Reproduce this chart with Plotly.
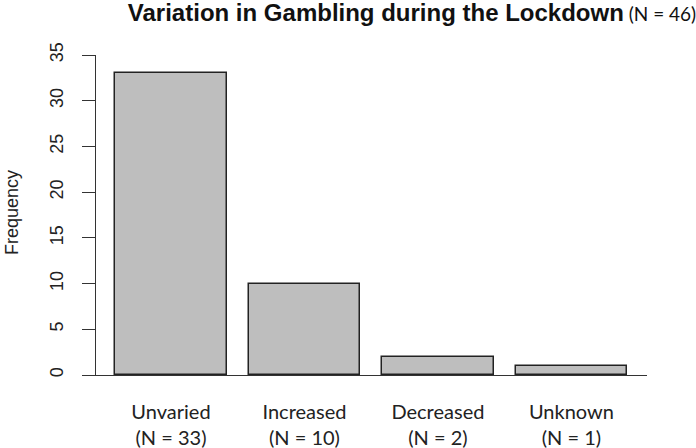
import plotly.graph_objects as go

categories = ["Unvaried", "Increased", "Decreased", "Unknown"]
counts = [33, 10, 2, 1]
positions = [0.7, 1.9, 3.1, 4.3]
tick_labels = [f"{c}<br>(N = {n})" for c, n in zip(categories, counts)]
y_ticks = [0, 5, 10, 15, 20, 25, 30, 35]
total = sum(counts)

fig = go.Figure()
fig.add_trace(go.Bar(
    x=positions, y=counts, width=1.0,
    marker=dict(color="#bebebe", line=dict(color="#222222", width=1.5)),
    hoverinfo="skip",
))

W, H = 696, 448
L, R, T, B = 82, 696 - 647, 55, 448 - 375
pw = W - L - R

fig.update_layout(
    width=W, height=H,
    margin=dict(l=L, r=R, t=T, b=B, pad=0, autoexpand=False),
    plot_bgcolor="white", paper_bgcolor="white",
    showlegend=False,
    bargap=0,
    title=dict(
        text=("<b>Variation in Gambling during the Lockdown</b>"
              f"<span style='font-family:Lato; font-size:19px'> (N = {total})</span>"),
        font=dict(family="Liberation Sans, Arial", size=24, color="#111111"),
        x=412 / W, xanchor="center", xref="container",
        y=1 - 4 / H, yanchor="top", yref="container",
        automargin=False,
    ),
    xaxis=dict(
        range=[-0.1, 4.98], tickvals=positions, ticktext=tick_labels,
        showline=True, linecolor="#333333", linewidth=1.3,
        ticks="", showgrid=False, zeroline=False, automargin=False,
        tickfont=dict(family="Lato, Noto Sans", size=20, color="#222222"),
        ticklabelstandoff=19,
    ),
    yaxis=dict(
        range=[0, 35], tickvals=y_ticks, ticktext=[str(v) for v in y_ticks],
        anchor="free", position=(95 - L) / pw, automargin=False,
        showline=True, linecolor="#333333", linewidth=1.3,
        ticks="outside", ticklen=13, tickcolor="#333333", tickwidth=1.3,
        tickangle=-90, showgrid=False, zeroline=False,
        tickfont=dict(family="Liberation Sans, Arial", size=18, color="#222222"),
        ticklabelstandoff=12,
    ),
    annotations=[dict(
        text="Frequency", textangle=-90, showarrow=False,
        xref="paper", yref="paper", x=(12 - L) / pw, y=(375 - 213) / 320,
        xanchor="center", yanchor="middle",
        font=dict(family="Liberation Sans, Arial", size=18, color="#222222"),
    )],
)

fig.write_html(
    "out.html",
    config={"displayModeBar": False},
    post_script="document.body.style.margin='0';document.body.style.overflow='hidden';",
)
